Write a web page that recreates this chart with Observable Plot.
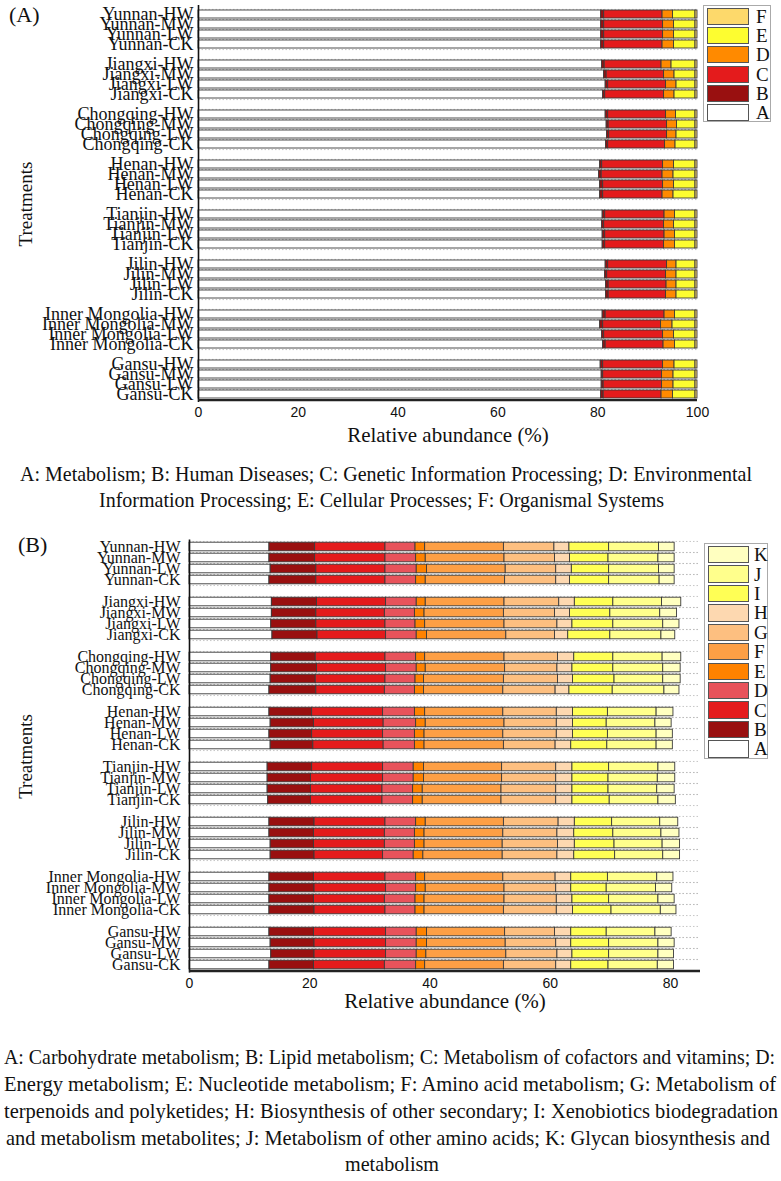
<!DOCTYPE html>
<html><head><meta charset="utf-8">
<script src="https://cdn.jsdelivr.net/npm/d3@7"></script>
<script src="https://cdn.jsdelivr.net/npm/@observablehq/plot@0.6"></script>
<style>
body{margin:0;background:#fff;font-family:"Liberation Serif","Times New Roman",serif;}
#wrap{position:relative;width:781px;height:1181px;overflow:hidden;}
.panel{position:absolute;left:0;}
.legend{position:absolute;border:1px solid #aaa;background:#fff;box-sizing:border-box;}
.sw{position:absolute;border:1px solid #555;box-sizing:border-box;}
.lt{position:absolute;font-size:19px;line-height:19px;color:#111;}
.cap{position:absolute;white-space:nowrap;font-size:21.5px;line-height:22px;transform-origin:0 50%;color:#111;font-family:"Liberation Serif","Times New Roman",serif;}
.plab{position:absolute;font-size:22px;line-height:22px;color:#111;}
</style></head>
<body><div id="wrap"></div>
<script>
// ---------- data ----------
const regions = ["Yunnan","Jiangxi","Chongqing","Henan","Tianjin","Jilin","Inner Mongolia","Gansu"];
const treatments = ["HW","MW","LW","CK"];

// Panel A: KEGG level 1 (relative abundance %), rows in order region x treatment
const catsA = ["A","B","C","D","E","F"];
const colorsA = ["#ffffff","#991010","#e41b1c","#ff8a00","#fdfd30","#fdd96b"];
const l1_A = [80.7,80.7,80.7,80.7, 80.9,81.3,81.6,81.1, 81.6,81.8,81.9,81.7, 80.5,80.3,80.5,80.5, 81.0,80.9,81.0,81.0, 81.6,81.5,81.7,81.7, 81.0,80.5,80.9,81.1, 80.6,80.8,80.8,80.7];
const l1_B = [0.6,0.6,0.6,0.6, 0.5,0.5,0.5,0.4, 0.5,0.4,0.4,0.4, 0.4,0.5,0.6,0.6, 0.5,0.4,0.5,0.5, 0.5,0.4,0.5,0.5, 0.6,0.6,0.4,0.5, 0.5,0.3,0.4,0.5];
const l1_C = [11.7,11.8,11.8,11.7, 11.4,11.5,11.6,11.8, 11.6,11.7,11.6,11.4, 12.2,12.2,12.0,11.9, 11.9,12.0,11.9,11.8, 11.8,11.8,11.6,11.5, 11.8,11.6,11.8,11.6, 12.0,11.8,11.7,11.6];
const l1_D = [2.1,2.2,2.2,2.3, 2.0,2.1,2.1,2.1, 2.0,2.0,1.9,2.1, 2.2,2.2,2.2,2.2, 2.1,2.0,2.1,2.2, 1.9,2.1,2.0,2.1, 2.1,2.3,2.2,2.3, 2.3,2.3,2.3,2.3];
const l1_E = [4.5,4.3,4.3,4.3, 4.8,4.2,3.8,4.2, 3.9,3.7,3.8,4.0, 4.3,4.4,4.3,4.4, 4.1,4.3,4.1,4.1, 3.8,3.8,3.8,3.8, 4.1,4.6,4.3,4.1, 4.2,4.4,4.4,4.5];
const l1_F = [0.4,0.4,0.4,0.4, 0.4,0.4,0.4,0.4, 0.4,0.4,0.4,0.4, 0.4,0.4,0.4,0.4, 0.4,0.4,0.4,0.4, 0.4,0.4,0.4,0.4, 0.4,0.4,0.4,0.4, 0.4,0.4,0.4,0.4];

// Panel B: KEGG level 2 (metabolism sub-categories)
const catsB = ["A","B","C","D","E","F","G","H","I","J","K"];
const colorsB = ["#ffffff","#991010","#e41b1c","#e8535b","#ff8200","#fd9f45","#fdbf80","#fdd8b0","#ffff55","#ffff8c","#ffffc0"];
const l2_A = [13.3,13.3,13.5,13.3, 13.7,13.7,13.6,13.8, 13.6,13.6,13.5,13.3, 13.3,13.5,13.3,13.5, 13.0,13.0,13.0,13.1, 13.3,13.3,13.5,13.5, 13.3,13.3,13.3,13.3, 13.3,13.5,13.6,13.3];
const l2_B = [7.6,7.6,7.6,7.8, 7.5,7.4,7.5,7.5, 7.4,7.6,7.5,7.8, 7.1,7.2,7.1,7.1, 7.4,7.2,7.2,7.1, 7.5,7.4,7.2,7.3, 7.4,7.5,7.4,7.5, 7.4,7.3,7.2,7.4];
const l2_C = [11.7,11.7,11.5,11.5, 11.5,11.4,11.5,11.4, 11.6,11.5,11.6,11.4, 11.8,11.6,11.8,11.7, 11.8,12.0,11.9,11.9, 11.8,11.8,11.8,11.4, 11.9,11.9,11.8,11.8, 12.0,11.9,11.9,11.8];
const l2_D = [5.0,5.1,5.2,5.1, 5.1,5.0,5.0,5.1, 5.1,5.1,5.0,5.0, 5.3,5.4,5.3,5.2, 5.1,5.1,5.1,5.1, 5.1,5.0,5.0,5.1, 5.1,5.0,5.1,5.0, 5.1,5.1,5.1,5.2];
const l2_E = [1.6,1.6,1.7,1.6, 1.5,1.6,1.6,1.7, 1.5,1.5,1.4,1.5, 1.7,1.6,1.6,1.6, 1.7,1.7,1.6,1.6, 1.6,1.6,1.6,1.6, 1.5,1.6,1.5,1.5, 1.7,1.7,1.6,1.5];
const l2_F = [13.1,13.1,13.1,13.2, 13.1,13.2,13.2,13.2, 13.2,13.2,13.3,13.2, 13.0,13.1,13.1,13.2, 13.0,13.0,13.1,13.1, 13.0,13.1,13.0,13.2, 13.0,13.1,13.3,13.2, 13.0,13.1,13.3,13.1];
const l2_G = [8.4,8.4,8.4,8.5, 9.1,8.5,8.8,8.1, 8.9,8.7,9.0,8.7, 8.9,8.7,8.9,8.6, 9.0,9.0,9.1,9.1, 9.1,9.0,9.2,9.1, 8.7,8.6,8.7,8.8, 8.3,8.4,8.5,8.7];
const l2_H = [2.5,2.5,2.6,2.3, 2.6,2.5,2.5,2.2, 2.7,2.5,2.5,2.3, 2.7,2.7,2.7,2.6, 2.7,2.7,2.7,2.7, 2.7,2.8,2.8,2.8, 2.6,2.5,2.6,2.7, 2.7,2.5,2.5,2.5];
const l2_I = [6.6,6.4,6.2,6.5, 6.4,6.7,6.8,7.0, 6.5,6.8,6.9,7.2, 5.8,5.6,5.8,6.0, 6.1,6.0,6.0,6.2, 6.2,6.5,6.6,6.8, 6.1,5.9,6.1,6.4, 5.9,6.3,6.1,6.2];
const l2_J = [8.3,8.3,8.3,8.4, 8.1,8.3,8.3,8.5, 8.2,8.3,8.1,8.6, 8.1,8.1,8.1,8.2, 8.2,8.2,8.1,8.1, 8.0,8.0,8.0,8.0, 8.2,8.2,8.2,8.2, 8.1,8.2,8.2,8.2];
const l2_K = [2.6,2.7,2.6,2.5, 3.2,2.8,2.7,2.3, 3.1,2.9,2.9,2.5, 2.8,2.7,2.7,2.7, 2.8,2.9,2.9,2.9, 3.0,3.0,2.9,2.8, 2.7,2.7,2.7,2.6, 2.7,2.7,2.6,2.7];

const captionA = [
  "A: Metabolism; B: Human Diseases; C: Genetic Information Processing; D: Environmental",
  "Information Processing; E: Cellular Processes; F: Organismal Systems"
];
const captionB = [
  "A: Carbohydrate metabolism; B: Lipid metabolism; C: Metabolism of cofactors and vitamins; D:",
  "Energy metabolism; E: Nucleotide metabolism; F: Amino acid metabolism; G: Metabolism of",
  "terpenoids and polyketides; H: Biosynthesis of other secondary; I: Xenobiotics biodegradation",
  "and metabolism metabolites; J: Metabolism of other amino acids; K: Glycan biosynthesis and",
  "metabolism"
];

// ---------- build ----------
const rows = regions.flatMap(r => treatments.map(t => `${r}-${t}`));
const slots = regions.flatMap((r, i) => {
  const s = treatments.map(t => `${r}-${t}`);
  return i < regions.length - 1 ? [...s, `gap${i}`] : s;
});
function tidy(series, cats) {
  return rows.flatMap((row, i) => cats.map((c, j) => ({row, cat: c, value: series[j][i]})));
}
const dataA = tidy([l1_A,l1_B,l1_C,l1_D,l1_E,l1_F], catsA);
const dataB = tidy([l2_A,l2_B,l2_C,l2_D,l2_E,l2_F,l2_G,l2_H,l2_I,l2_J,l2_K], catsB);

function panel({data, cats, colors, height, mt, mb, ml, mr, xmax, fs, pad, ins, ylabOff, xlabOff}) {
  const step = (height - mt - mb) / slots.length;
  return Plot.plot({
    width: 781, height, marginTop: mt, marginBottom: mb, marginLeft: ml, marginRight: mr,
    style: {fontFamily: "Liberation Serif", fontSize: fs + "px", background: "transparent", color: "#111"},
    x: {domain: [0, xmax]},
    y: {type: "band", domain: slots, padding: 0},
    color: {domain: cats, range: colors},
    marks: [
      Plot.ruleY(rows, {dy: step / 2, stroke: "#b8b8b8", strokeDasharray: "1.5,2", strokeWidth: 0.8}),
      Plot.ruleY(rows, {dy: -step / 2, stroke: "#b8b8b8", strokeDasharray: "1.5,2", strokeWidth: 0.8}),
      Plot.barX(data, Plot.stackX({x: "value", y: "row", fill: "cat", stroke: "#3a3a3a", strokeWidth: 0.9, insetTop: ins, insetBottom: ins})),
      Plot.ruleX([0], {stroke: "#111", strokeWidth: 1.6}),
      Plot.ruleY([rows[rows.length - 1]], {dy: step / 2 + 0.5, stroke: "#222", strokeWidth: 2.4}),
      Plot.axisX({ticks: [0, 20, 40, 60, 80, 100].filter(v => v <= xmax), tickSize: 0, tickPadding: 5,
        fontFamily: "Liberation Sans", fontSize: 14, label: null}),
      Plot.axisX({ticks: [], tickSize: 0, fontFamily: "Liberation Serif", fontSize: 21,
        label: "Relative abundance (%)", labelAnchor: "center", labelOffset: xlabOff, labelArrow: false}),
      Plot.axisY({ticks: rows, tickSize: 0, tickPadding: pad, fontSize: fs, label: null}),
      Plot.axisY({ticks: [], tickSize: 0, fontSize: 19,
        label: "Treatments", labelAnchor: "center", labelOffset: ylabOff})
    ]
  });
}

const wrap = document.getElementById("wrap");
function place(el, top) { el.classList.add("panel"); el.style.top = top + "px"; wrap.appendChild(el); }

place(panel({data: dataA, cats: catsA, colors: colorsA, height: 450, mt: 5, mb: 48, ml: 198, mr: 84, xmax: 100, fs: 18, pad: 5, ins: 1, ylabOff: 180, xlabOff: 39}), 0);
place(panel({data: dataB, cats: catsB, colors: colorsB, height: 490, mt: 14.5, mb: 42.6, ml: 189, mr: 81, xmax: 85, fs: 16, pad: 9, ins: 1.2, ylabOff: 171, xlabOff: 35}), 525);

function label(text, x, y) { const d = document.createElement("div"); d.className = "plab"; d.textContent = text; d.style.left = x + "px"; d.style.top = y + "px"; wrap.appendChild(d); }
label("(A)", 9, 4);
label("(B)", 18, 534);

function legend(cats, colors, box, sw) {
  const lg = document.createElement("div"); lg.className = "legend";
  Object.assign(lg.style, {left: box.x + "px", top: box.y + "px", width: box.w + "px", height: box.h + "px"});
  wrap.appendChild(lg);
  const order = cats.map((c, i) => i).reverse();
  order.forEach((ci, k) => {
    const s = document.createElement("div"); s.className = "sw";
    Object.assign(s.style, {left: sw.x + "px", top: (sw.y + k * sw.step) + "px", width: sw.w + "px", height: sw.h + "px", background: colors[ci]});
    lg.appendChild(s);
    const t = document.createElement("div"); t.className = "lt"; t.textContent = cats[ci];
    Object.assign(t.style, {left: sw.tx + "px", top: (sw.y + k * sw.step + sw.h / 2 - 9.5) + "px"});
    lg.appendChild(t);
  });
}
legend(catsA, colorsA, {x: 703, y: 5, w: 68, h: 117}, {x: 3, y: 2, step: 19.2, w: 42, h: 17, tx: 52});
legend(catsB, colorsB, {x: 704, y: 543, w: 64, h: 216}, {x: 2.5, y: 2, step: 19.43, w: 41, h: 17.3, tx: 49});

function caption(lines, specs) {
  lines.forEach((txt, i) => {
    const [l, r, cy] = specs[i];
    const d = document.createElement("div"); d.className = "cap"; d.textContent = txt;
    d.style.left = l + "px"; d.style.top = (cy - 11) + "px";
    wrap.appendChild(d);
    const w = d.getBoundingClientRect().width;
    d.style.transform = `scaleX(${(r - l) / w})`;
  });
}
caption(captionA, [[20, 752, 474], [99, 664, 500]]);
caption(captionB, [[4, 775, 1057], [4, 776, 1084], [4, 778, 1111], [6, 770, 1138], [345, 439, 1164]]);
</script>
</body></html>
